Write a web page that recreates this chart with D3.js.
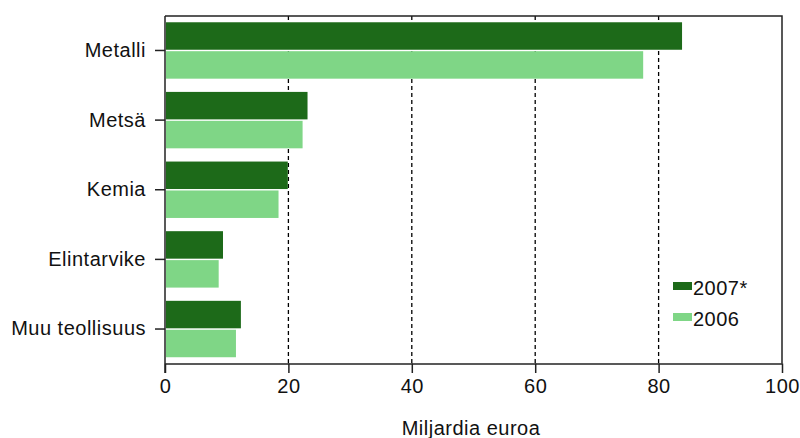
<!DOCTYPE html>
<html>
<head>
<meta charset="utf-8">
<script src="https://cdn.jsdelivr.net/npm/d3@7"></script>
<style>
  body { margin: 0; background: #fff; }
  text { font-family: "Liberation Sans", Arial, sans-serif; fill: #111; letter-spacing: 0.5px; }
</style>
</head>
<body>
<svg width="800" height="438"></svg>
<script>
// data
var categories = ["Metalli", "Metsä", "Kemia", "Elintarvike", "Muu teollisuus"];
var series = ["2007*", "2006"];
var values2007 = [83.8, 23.1, 19.9, 9.4, 12.3];
var values2006 = [77.5, 22.3, 18.4, 8.7, 11.5];
var xTicks = [0, 20, 40, 60, 80, 100];
var colors = ["#1d6a19", "#7fd686"];

var svg = d3.select("svg");
var plotLeft = 165, plotRight = 782, plotTop = 16, plotBottom = 363.5;

var x = d3.scaleLinear().domain([0, 100]).range([plotLeft, plotRight]);
var y = d3.scaleBand().domain(categories).range([plotTop, plotBottom])
  .paddingInner(0.19).paddingOuter(0.09);
var ySub = d3.scaleBand().domain(series).range([0, y.bandwidth()]).paddingInner(0.05);

var rows = categories.map(function (c, i) {
  return { cat: c, vals: [values2007[i], values2006[i]] };
});

// dashed gridlines (behind bars)
svg.append("g")
  .selectAll("line")
  .data(xTicks.filter(function (d) { return d > 0 && d < 100; }))
  .enter().append("line")
    .attr("x1", function (d) { return x(d); })
    .attr("x2", function (d) { return x(d); })
    .attr("y1", plotTop)
    .attr("y2", plotBottom)
    .attr("stroke", "#000")
    .attr("stroke-width", 1.3)
    .attr("stroke-dasharray", "4,3");

// bars
var grp = svg.append("g")
  .selectAll("g")
  .data(rows)
  .enter().append("g")
    .attr("transform", function (d) { return "translate(0," + y(d.cat) + ")"; });

grp.selectAll("rect")
  .data(function (d) { return d.vals.map(function (v, j) { return { s: series[j], v: v, j: j }; }); })
  .enter().append("rect")
    .attr("x", x(0) + 1)
    .attr("y", function (d) { return ySub(d.s); })
    .attr("width", function (d) { return x(d.v) - x(0) - 1; })
    .attr("height", ySub.bandwidth())
    .attr("fill", function (d) { return colors[d.j]; });

// frame top/right
svg.append("path")
  .attr("d", "M" + plotLeft + "," + plotTop + "H" + plotRight + "V" + plotBottom)
  .attr("fill", "none")
  .attr("stroke", "#222")
  .attr("stroke-width", 1.5);

// axes
var xAxis = svg.append("g")
  .attr("transform", "translate(0," + plotBottom + ")")
  .call(d3.axisBottom(x).tickValues(xTicks).tickSize(9.5).tickPadding(6).tickSizeOuter(0));
xAxis.select(".domain").attr("stroke", "#222").attr("stroke-width", 1.5);
xAxis.selectAll(".tick line").attr("stroke", "#222").attr("stroke-width", 1.5);
xAxis.selectAll("text").style("font-size", "20px")
  .style("font-family", "Liberation Sans, Arial, sans-serif").attr("fill", "#111");

var yAxis = svg.append("g")
  .attr("transform", "translate(" + plotLeft + ",0)")
  .call(d3.axisLeft(y).tickSize(10).tickPadding(9).tickSizeOuter(0));
yAxis.select(".domain").attr("stroke", "#222").attr("stroke-width", 1.5)
  .attr("d", "M0," + plotTop + "V" + (plotBottom + 9.5));
yAxis.selectAll(".tick line").attr("stroke", "#222").attr("stroke-width", 1.5);
yAxis.selectAll("text").style("font-size", "20px")
  .style("font-family", "Liberation Sans, Arial, sans-serif").attr("fill", "#111");

// axis title
svg.append("text")
  .attr("x", 471)
  .attr("y", 435)
  .attr("text-anchor", "middle")
  .style("font-size", "20px")
  .text("Miljardia euroa");

// legend
var legend = svg.append("g").attr("transform", "translate(673,282)");
var li = legend.selectAll("g")
  .data(series)
  .enter().append("g")
    .attr("transform", function (d, i) { return "translate(0," + (i * 31) + ")"; });
li.append("rect")
  .attr("width", 19)
  .attr("height", 8)
  .attr("fill", function (d, i) { return colors[i]; });
li.append("text")
  .attr("x", 20)
  .attr("y", 13)
  .style("font-size", "20px")
  .text(function (d) { return d; });
</script>
</body>
</html>
